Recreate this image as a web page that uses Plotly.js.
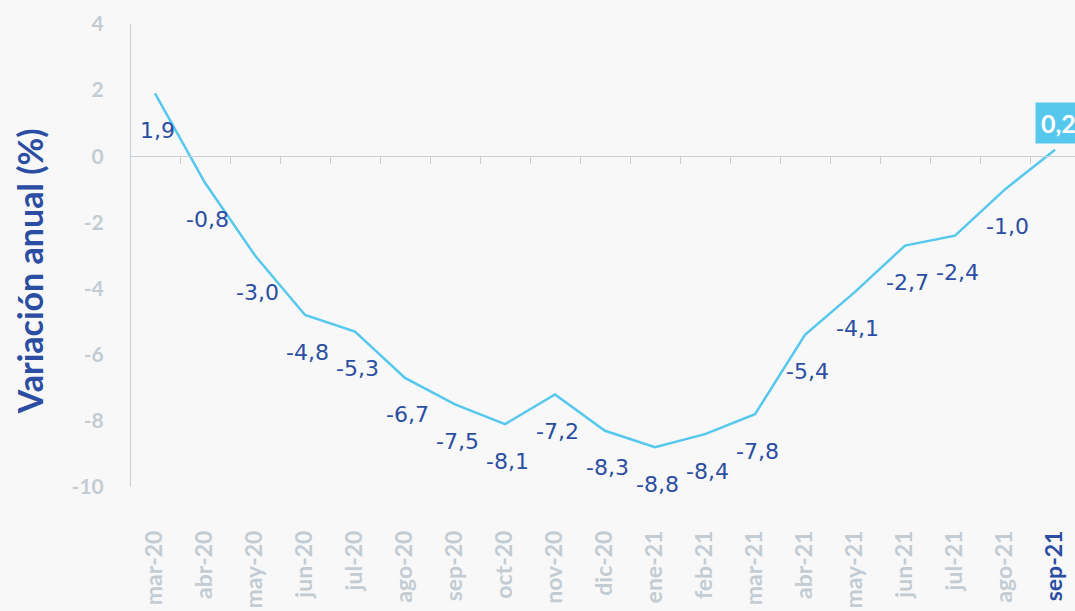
<!DOCTYPE html>
<html><head><meta charset="utf-8">
<script src="https://cdn.plot.ly/plotly-3.0.1.min.js"></script>
<style>html,body{margin:0;padding:0;background:#f8f8f8;}#chart{width:1075px;height:611px;}</style>
</head><body><div id="chart"></div>
<script>
const months = ["mar-20","abr-20","may-20","jun-20","jul-20","ago-20","sep-20","oct-20","nov-20","dic-20","ene-21","feb-21","mar-21","abr-21","may-21","jun-21","jul-21","ago-21","sep-21"];
const variacion = [1.9,-0.8,-3.0,-4.8,-5.3,-6.7,-7.5,-8.1,-7.2,-8.3,-8.8,-8.4,-7.8,-5.4,-4.1,-2.7,-2.4,-1.0,0.2];
const yTicks = [4,2,0,-2,-4,-6,-8,-10];
const yTitle = "Variación anual (%)";

const blue = "#2b4ea2", cyan = "#56c8ee", gray = "#c3ccd3", axisGray = "#c8d0d6";
const fmt = v => v.toFixed(1).replace(".", ",");
const last = months.length - 1;

const tickText = months.map((m, i) => i === last ? `<span style="color:${blue}">${m}</span>` : m);

const annotations = months.map((m, i) => {
  if (i === last) {
    return {x: m, y: variacion[i], xref: "x", yref: "y", text: "<b>" + fmt(variacion[i]) + "</b>",
      showarrow: false, yshift: 27, xshift: 3, bgcolor: cyan, borderpad: 5,
      font: {family: "Lato, sans-serif", size: 25, color: "#ffffff"}};
  }
  return {x: m, y: variacion[i], xref: "x", yref: "y", text: fmt(variacion[i]), showarrow: false,
    yshift: -37, xshift: 2, font: {family: "DejaVu Sans, sans-serif", size: 22, color: blue}};
});
annotations.push({xref: "paper", yref: "paper", x: -0.108, y: 0.466, xanchor: "center", yanchor: "middle",
  textangle: -90, showarrow: false, text: "<b>" + yTitle + "</b>",
  font: {family: "Lato, sans-serif", size: 34, color: blue}});

const data = [
  {x: months, y: variacion, type: "scatter", mode: "lines", line: {color: cyan, width: 2.5}, hoverinfo: "skip"},
  {x: months, y: variacion, xaxis: "x2", type: "scatter", mode: "lines", line: {width: 0}, opacity: 0, hoverinfo: "skip", showlegend: false}
];

const layout = {
  width: 1075, height: 611,
  paper_bgcolor: "#f8f8f8", plot_bgcolor: "#f8f8f8",
  margin: {l: 131, r: 0, t: 24, b: 124},
  showlegend: false,
  font: {family: "Lato, sans-serif"},
  xaxis: {type: "category", categoryarray: months, range: [-0.48, 18.4], tickvals: months, ticktext: tickText,
    tickangle: -90, showgrid: false, zeroline: false, showline: false, ticks: "", ticklabelstandoff: 38,
    tickfont: {family: "Lato, sans-serif", size: 23, color: gray, weight: "bold"}, fixedrange: true, automargin: false},
  xaxis2: {type: "category", categoryarray: months, range: [-0.48, 18.4], overlaying: "x", anchor: "free",
    position: 10/14, showline: true, linecolor: axisGray, linewidth: 1, ticks: "outside", tickson: "boundaries",
    ticklen: 7, tickcolor: axisGray, tickwidth: 1, showticklabels: false, showgrid: false, zeroline: false},
  yaxis: {range: [-10, 4], tickvals: yTicks, ticktext: yTicks.map(String), showgrid: false, zeroline: false,
    showline: true, linecolor: axisGray, linewidth: 1, ticks: "", ticklabelstandoff: 22, automargin: false,
    tickfont: {family: "Lato, sans-serif", size: 21, color: gray, weight: "bold"}},
  annotations: annotations
};
Plotly.newPlot("chart", data, layout, {displayModeBar: false, staticPlot: true});
</script></body></html>
